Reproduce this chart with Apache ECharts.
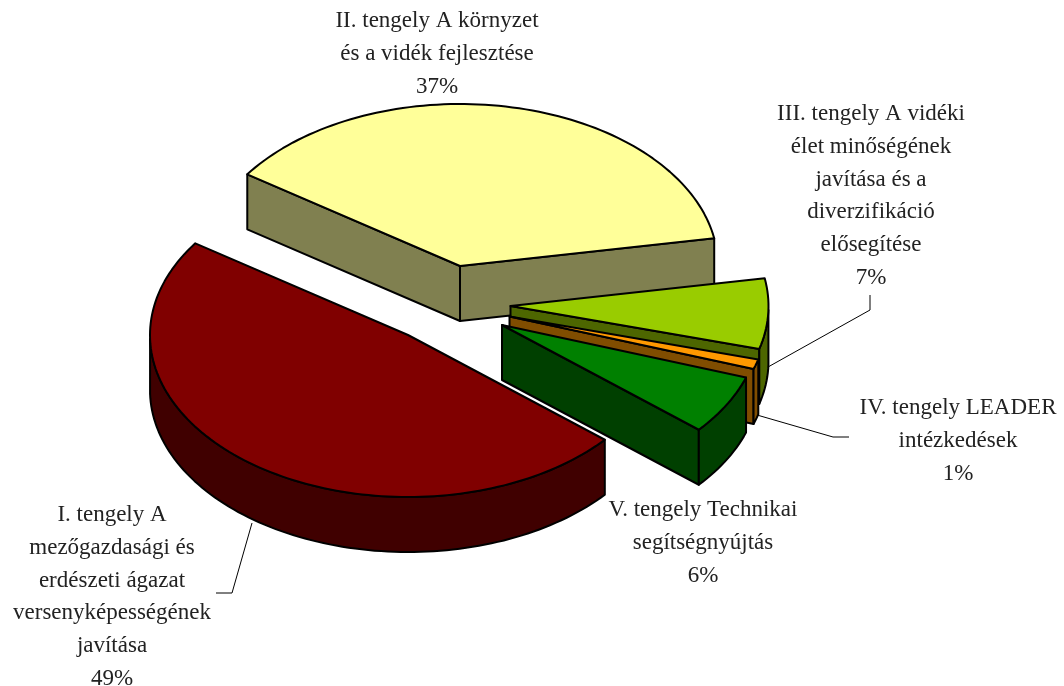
<!DOCTYPE html>
<html><head><meta charset="utf-8">
<style>html,body{margin:0;padding:0;background:#fff}#c{width:1064px;height:686px}</style>
<script src="https://cdn.jsdelivr.net/npm/echarts@6/dist/echarts.min.js"></script>
</head><body><div id="c"></div>
<script>
// Data, in painter's order (back slices first)
const categories = [
  'II. tengely A környzet\nés a vidék fejlesztése',
  'III. tengely A vidéki\nélet minőségének\njavítása és a\ndiverzifikáció\nelősegítése',
  'IV. tengely LEADER\nintézkedések',
  'V. tengely Technikai\nsegítségnyújtás',
  'I. tengely A\nmezőgazdasági és\nerdészeti ágazat\nversenyképességének\njavítása'
];
const shares = [37, 7, 1, 6, 49];

// Styling and layout
const topColors  = ['#FFFF99', '#99CC00', '#FF9900', '#008000', '#800000'];
const sideColors = ['#808050', '#4D6600', '#804D00', '#004000', '#400000'];
const apexes = [[460,266],[510.5,306],[509.5,316.5],[502,325],[408,335]];
const labelCenters = [[437,54],[871,196],[958,441],[703,543],[112,597]];
const leaders = [
  null,
  [[870,295],[870,310],[768,367]],
  [[849,437],[833,437],[757,415]],
  null,
  [[252,523],[232,593],[216,593]]
];
const RX = 258, RY = 162, DEPTH = 55, START = 215.6, WARP = 1.4;

const FONT = '"Liberation Serif", serif';
const total = shares.reduce((a, b) => a + b, 0);
const rad = d => d * Math.PI / 180;

function renderItem(params, api) {
  const i = params.dataIndex;
  const v = api.value(0);
  let before = 0;
  for (let k = 0; k < i; k++) before += shares[k];
  const s = START + before / total * 360;
  const e = s + v / total * 360;
  const [ax, ay] = apexes[i];
  // small angular warp stands in for the original's perspective view
  const view = t => t + WARP * Math.cos(rad(t));
  const rim = t => {
    const w = rad(view(t));
    return [ax + RX * Math.cos(w), ay + RY * Math.sin(w)];
  };
  const arc = (a, b) => {
    const pts = [];
    const n = Math.max(2, Math.ceil((b - a) / 1.5));
    for (let j = 0; j <= n; j++) pts.push(rim(a + (b - a) * j / n));
    return pts;
  };
  const down = p => [p[0], p[1] + DEPTH];
  const style = fill => ({ fill, stroke: '#000', lineWidth: 2, lineJoin: 'round' });
  const poly = (points, fill) => ({ type: 'polygon', shape: { points }, style: style(fill) });
  const children = [];
  const side = sideColors[i];
  const radial = t => poly([[ax, ay], rim(t), down(rim(t)), [ax, ay + DEPTH]], side);
  if (Math.sin(rad(s - 90)) > 0) children.push(radial(s));
  if (Math.sin(rad(e + 90)) > 0) children.push(radial(e));
  for (let k = -1; k <= 2; k++) {
    const lo = Math.max(s, 360 * k), hi = Math.min(e, 360 * k + 180);
    if (hi > lo) {
      const top = arc(lo, hi);
      children.push(poly(top.concat(top.map(down).reverse()), side));
    }
  }
  children.push(poly([[ax, ay]].concat(arc(s, e)), topColors[i]));
  if (leaders[i]) {
    children.push({ type: 'polyline', shape: { points: leaders[i] },
      style: { fill: null, stroke: '#000', lineWidth: 1 } });
  }
  return { type: 'group', children };
}

function renderLabel(params, api) {
  const i = params.dataIndex;
  return { type: 'text', x: labelCenters[i][0], y: labelCenters[i][1],
    style: { text: categories[i] + '\n' + api.value(0) + '%', font: '23px ' + FONT,
      fill: '#222', align: 'center', verticalAlign: 'middle', lineHeight: 32.7 } };
}

const chart = echarts.init(document.getElementById('c'), null, { renderer: 'canvas' });
chart.setOption({
  animation: false,
  backgroundColor: '#fff',
  series: [
    { type: 'custom', coordinateSystem: 'none', renderItem, silent: true,
      data: shares.map((v, i) => ({ name: categories[i], value: [v] })), z: 1 },
    { type: 'custom', coordinateSystem: 'none', renderItem: renderLabel, silent: true,
      data: shares.map((v, i) => ({ name: categories[i], value: [v] })), z: 2 }
  ]
});
</script></body></html>
